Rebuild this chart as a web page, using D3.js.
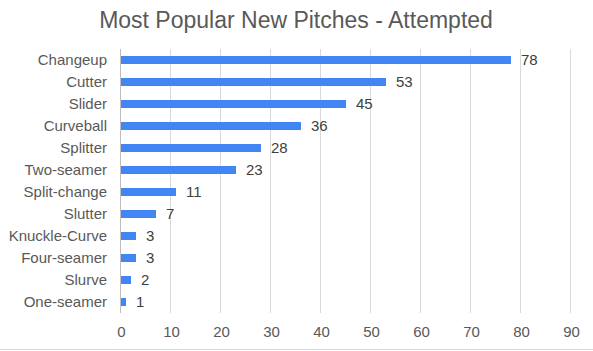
<!DOCTYPE html>
<html>
<head>
<meta charset="utf-8">
<script src="https://cdn.jsdelivr.net/npm/d3@7"></script>
<style>
    body { margin: 0; background: #fff; }
    text { font-family: Arial, "Liberation Sans", sans-serif; }
</style>
</head>
<body>
<script>
var pitches = ['Changeup', 'Cutter', 'Slider', 'Curveball', 'Splitter', 'Two-seamer',
    'Split-change', 'Slutter', 'Knuckle-Curve', 'Four-seamer', 'Slurve', 'One-seamer'];
var attempted = [78, 53, 45, 36, 28, 23, 11, 7, 3, 3, 2, 1];
var xTicks = [0, 10, 20, 30, 40, 50, 60, 70, 80, 90];

var svg = d3.select('body').append('svg')
    .attr('width', 593)
    .attr('height', 351);

var margin = { top: 49, right: 22, bottom: 38, left: 121 },
    g = svg.append('g').attr('transform', 'translate(' + margin.left + ',' + margin.top + ')');

var data = pitches.map(function (p, i) { return { name: p, value: attempted[i] }; });

var x = d3.scaleLinear()
    .domain([0, 90])
    .range([0, 450]);

var y = d3.scaleBand()
    .domain(pitches)
    .range([0, 264])
    .paddingInner(0.636)
    .paddingOuter(0.318);

// gridlines
g.append('g')
    .selectAll('line')
    .data(xTicks)
    .enter().append('line')
    .attr('x1', function (d) { return Math.round(x(d)) - 0.5; })
    .attr('x2', function (d) { return Math.round(x(d)) - 0.5; })
    .attr('y1', 0)
    .attr('y2', 264)
    .attr('stroke', function (d) { return d === 0 ? '#bdbdbd' : '#d9d9d9'; })
    .attr('stroke-width', 1);

// x tick labels
g.append('g')
    .attr('transform', 'translate(0,264)')
    .call(d3.axisBottom(x).tickValues(xTicks).tickSize(0).tickPadding(13))
    .call(function (a) { a.select('.domain').remove(); })
    .selectAll('text')
    .attr('fill', '#595959')
    .style('font-size', '15px')
    .style('font-family', 'Arial, "Liberation Sans", sans-serif');

// y labels
g.append('g')
    .call(d3.axisLeft(y).tickSize(0).tickPadding(14))
    .call(function (a) { a.select('.domain').remove(); })
    .selectAll('text')
    .attr('fill', '#595959')
    .style('font-size', '15px')
    .style('font-family', 'Arial, "Liberation Sans", sans-serif');

// bars
g.selectAll('.bar')
    .data(data)
    .enter().append('rect')
    .attr('class', 'bar')
    .attr('x', x(0))
    .attr('y', function (d) { return y(d.name); })
    .attr('width', function (d) { return x(d.value); })
    .attr('height', y.bandwidth())
    .attr('fill', '#4285f4');

// value labels
g.selectAll('.val')
    .data(data)
    .enter().append('text')
    .attr('class', 'val')
    .attr('x', function (d) { return x(d.value) + 10; })
    .attr('y', function (d) { return y(d.name) + y.bandwidth() / 2; })
    .attr('dy', '0.35em')
    .attr('fill', '#404040')
    .style('font-size', '15px')
    .text(function (d) { return d.value; });

// title
svg.append('text')
    .attr('x', 296)
    .attr('y', 28)
    .style('text-anchor', 'middle')
    .style('font-size', '23px')
    .attr('fill', '#595959')
    .text('Most Popular New Pitches - Attempted');

// bottom border
svg.append('line')
    .attr('x1', 0).attr('x2', 593)
    .attr('y1', 349.5).attr('y2', 349.5)
    .attr('stroke', '#d9d9d9');
</script>
</body>
</html>
